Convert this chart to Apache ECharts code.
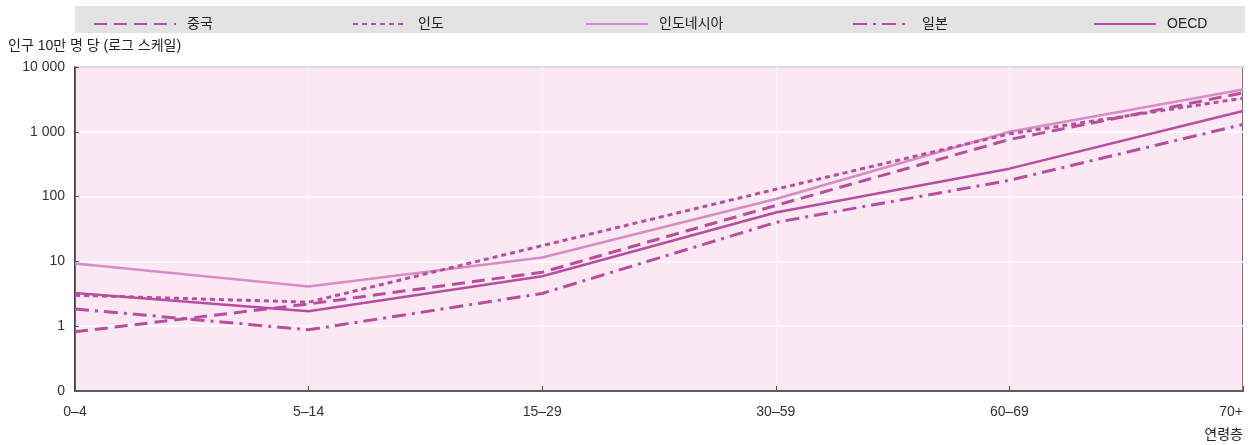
<!DOCTYPE html>
<html><head><meta charset="utf-8">
<script src="https://cdn.jsdelivr.net/npm/echarts@6/dist/echarts.min.js"></script>
<style>html,body{margin:0;padding:0;background:#fff}#c{width:1254px;height:445px}</style>
</head><body><div id="c"></div>
<script>
var categories = ['0\u20134', '5\u201314', '15\u201329', '30\u201359', '60\u201369', '70+'];
var seriesNames = ['중국', '인도', '인도네시아', '일본', 'OECD'];
var china = [0.82, 2.2, 6.8, 73, 760, 4000];
var india = [3.0, 2.35, 17.5, 130, 930, 3300];
var indonesia = [9.3, 4.1, 11.5, 92, 1000, 4500];
var japan = [1.85, 0.88, 3.2, 40, 178, 1300];
var oecd = [3.25, 1.7, 5.9, 57, 270, 2100];
var yTickValues = [0.1, 1, 10, 100, 1000, 10000];

var MAIN = '#b94e9f', LIGHT = '#d68cc4';
var font = 'Liberation Sans, Arial, Noto Sans CJK KR, sans-serif';
var seriesData = [china, india, indonesia, japan, oecd];
var styles = [
  {color: MAIN, width: 3, type: [13, 7]},
  {color: MAIN, width: 3, type: [5, 4]},
  {color: LIGHT, width: 2.5, type: 'solid'},
  {color: MAIN, width: 3, type: [14, 6, 3, 6]},
  {color: MAIN, width: 2.5, type: 'solid'}
];
var legendLeft = [88, 347, 580, 847, 1088];
var legendW = [82, 54, 62, 58, 62];

var chart = echarts.init(document.getElementById('c'));
var fmt = function (v) {
  if (v < 0.5) return '0';
  return String(Math.round(v)).replace(/\B(?=(\d{3})+(?!\d))/g, ' ');
};
var legends = seriesNames.map(function (n, i) {
  return {
    show: true, orient: 'horizontal',
    data: [{name: n}], left: legendLeft[i], top: 12, itemWidth: legendW[i], itemHeight: 14, itemGap: 0,
    selectedMode: false,
    itemStyle: {opacity: 0, borderWidth: 0},
    textStyle: {fontFamily: font, fontSize: 14, color: '#222', padding: [0, 0, 0, 6]}
  };
});
chart.setOption({
  animation: false,
  legend: legends,
  graphic: [
    {type: 'rect', shape: {x: 75, y: 6, width: 1170, height: 27}, style: {fill: '#e3e3e3'}, z: -10, silent: true},
    {type: 'text', left: 8, top: 39, style: {text: '인구 10만 명 당 (로그 스케일)', font: '14px ' + font, fill: '#222'}},
    {type: 'text', right: 11, top: 428, style: {text: '연령층', font: '14px ' + font, fill: '#222', align: 'right'}}
  ],
  grid: {left: 75, right: 11, top: 67, bottom: 54, show: true, backgroundColor: '#fbe8f3', borderColor: '#4a4a4a', borderWidth: 1.5},
  xAxis: {
    type: 'category', data: categories, boundaryGap: false,
    axisLine: {lineStyle: {color: '#333', width: 1.5}},
    axisTick: {inside: true, length: 5, lineStyle: {color: '#555'}},
    axisLabel: {color: '#333', fontSize: 14, fontFamily: font, margin: 14, alignMinLabel: 'center', alignMaxLabel: 'right'},
    splitLine: {show: true, lineStyle: {color: '#ffffff', width: 1}}
  },
  yAxis: {
    type: 'log', logBase: 10, min: yTickValues[0], max: yTickValues[yTickValues.length - 1],
    axisLine: {show: true, lineStyle: {color: '#333', width: 1.5}},
    axisTick: {show: true, inside: true, length: 4, lineStyle: {color: '#555'}},
    axisLabel: {color: '#333', fontSize: 14, fontFamily: font, margin: 10, formatter: fmt},
    splitLine: {show: true, lineStyle: {color: '#ffffff', width: 1.5}}
  },
  series: seriesNames.map(function (n, i) {
    return {
      name: n, type: 'line', data: seriesData[i], symbol: 'none',
      lineStyle: {color: styles[i].color, width: styles[i].width, type: styles[i].type},
      itemStyle: {color: styles[i].color}, z: i === 2 ? 1 : 2
    };
  })
});
</script></body></html>
